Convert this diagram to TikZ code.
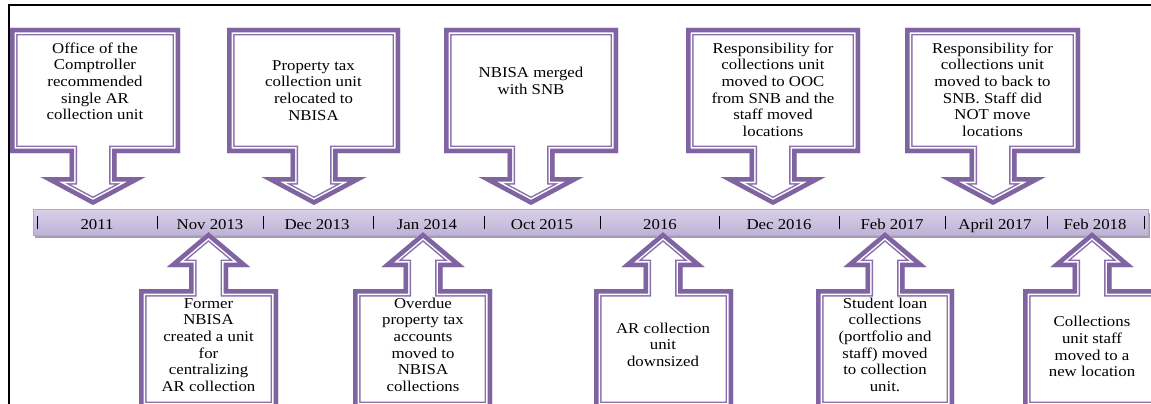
\documentclass[tikz,border=0pt]{standalone}
\usepackage{fontspec}
\setmainfont{Liberation Serif}[FakeStretch=1.12]
\definecolor{co}{HTML}{8064A2}
\definecolor{thinc}{HTML}{8A6FAD}
\definecolor{barTop}{HTML}{D9D0E8}
\definecolor{barBot}{HTML}{BFB2D7}
\definecolor{barEdge}{HTML}{B5A7CF}
\definecolor{barShadow}{HTML}{A49CB2}
\newcommand{\cshape}[1]{%
  \begin{scope}
    \clip #1;
    \fill[white] #1;
    \draw[thinc,line width=15pt,line join=miter] #1;
    \draw[white,line width=12pt,line join=miter] #1;
    \draw[co,line width=9pt,line join=miter] #1;
  \end{scope}}
% down callout: left, right, arrow centre
\newcommand{\dncall}[3]{\cshape{(#1,28) -- (#2,28) -- (#2,153) -- ({#3+23.5},153) -- ({#3+23.5},177) -- ({#3+52.5},177) -- (#3,205) -- ({#3-52.5},177) -- ({#3-23.5},177) -- ({#3-23.5},153) -- (#1,153) -- cycle}}
% up callout: left, right, arrow centre
\newcommand{\upcall}[3]{\cshape{(#1,409) -- (#1,289) -- ({#3-19.5},289) -- ({#3-19.5},267) -- ({#3-41.5},267) -- (#3,232) -- ({#3+41.5},267) -- ({#3+19.5},267) -- ({#3+19.5},289) -- (#2,289) -- (#2,409) -- cycle}}
\begin{document}
\begin{tikzpicture}[x=1pt,y=-1pt,
  cfont/.style={font=\fontsize{15}{16.7}\selectfont},
  ctext/.style={cfont,align=center,inner sep=0pt,anchor=base},
  datelab/.style={cfont,inner sep=0pt,anchor=base},
  tickmark/.style={black,line width=0.9pt},
  frameline/.style={black,line width=1.7pt}]
\useasboundingbox (0,0) rectangle (1151,404);
\clip (0,0) rectangle (1151,404);
\fill[white] (0,0) rectangle (1151,404);
% frame
\draw[frameline] (9.2,404) -- (9.2,5) -- (1151,5);
% timeline bar
\fill[barShadow] (35,213) rectangle (1150,238);
\shade[top color=barTop, middle color=white, bottom color=barBot, draw=barEdge, line width=0.8pt] (33,209) rectangle (1148,235);
\foreach \x in {37,157,263,373,484,600,719,839,945,1047,1144}
  \draw[tickmark] (\x,216) -- (\x,229);
\node[datelab] (d1) at (97,229) {2011};
\node[datelab] (d2) at (210,229) {Nov 2013};
\node[datelab] (d3) at (317,229) {Dec 2013};
\node[datelab] (d4) at (427,229) {Jan 2014};
\node[datelab] (d5) at (542,229) {Oct 2015};
\node[datelab] (d6) at (660,229) {2016};
\node[datelab] (d7) at (779,229) {Dec 2016};
\node[datelab] (d8) at (892,229) {Feb 2017};
\node[datelab] (d9) at (995,229) {April 2017};
\node[datelab] (d10) at (1095,229) {Feb 2018};
% top callouts
\dncall{10}{180}{93}
\dncall{227}{400}{314}
\dncall{444}{618}{531}
\dncall{686}{860}{773}
\dncall{905}{1080}{993}
\node[ctext] (t1) at (95,119.8) {Office of the\\Comptroller\\recommended\\single AR\\collection unit};
\node[ctext] (t2) at (313.5,120.1) {Property tax\\collection unit\\relocated to\\NBISA};
\node[ctext] (t3) at (531,94.7) {NBISA merged\\with SNB};
\node[ctext] (t4) at (773,136.5) {Responsibility for\\collections unit\\moved to OOC\\from SNB and the\\staff moved\\locations};
\node[ctext] (t5) at (992.5,136.5) {Responsibility for\\collections unit\\moved to back to\\SNB. Staff did\\NOT move\\locations};
% bottom callouts
\upcall{139}{278}{208.5}
\upcall{353}{492}{423}
\upcall{594}{733}{663}
\upcall{816}{954}{885}
\upcall{1023}{1161}{1092}
\node[ctext] (b1) at (208.5,391.5) {Former\\NBISA\\created a unit\\for\\centralizing\\AR collection};
\node[ctext] (b2) at (423,391.5) {Overdue\\property tax\\accounts\\moved to\\NBISA\\collections};
\node[ctext] (b3) at (663,366.4) {AR collection\\unit\\downsized};
\node[ctext] (b4) at (885,391.5) {Student loan\\collections\\(portfolio and\\staff) moved\\to collection\\unit.};
\node[ctext] (b5) at (1092,376.8) {Collections\\unit staff\\moved to a\\new location};
\end{tikzpicture}
\end{document}
